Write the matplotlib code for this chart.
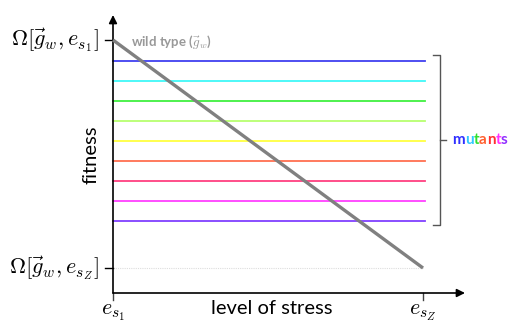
import matplotlib
matplotlib.use("Agg")
import matplotlib.pyplot as plt

plt.rcParams['mathtext.fontset'] = 'cm'

# ---- data ----
stress = [0.0, 1.0]                 # e_s1 .. e_sZ
wild_type_fitness = [1.0, 0.0]
mutant_fitness = [0.908, 0.820, 0.732, 0.645, 0.557, 0.469, 0.382, 0.294, 0.206]
mutant_colors = ['#4040f0', '#40f8f8', '#40f040', '#b8ff70', '#ffff40',
                 '#ff7050', '#ff4080', '#ff40ff', '#8040ff']
y_tick_labels = [r'$\Omega\left[\vec{g}_w, e_{s_1}\right]$',
                 r'$\Omega\left[\vec{g}_w, e_{s_Z}\right]$']
x_tick_labels = [r'$e_{s_1}$', r'$e_{s_Z}$']
word = 'mutants'
word_colors = ['#3030ff', '#30c8ff', '#30e030', '#ff6030', '#ff3030', '#ff30ff', '#9030ff']

W, H = 512, 322
fig = plt.figure(figsize=(W / 100, H / 100), dpi=100)
ax = fig.add_axes([0, 0, 1, 1])
ax.axis('off')
# data-unit mapping: x 0..1 -> px 113..423 ; y 1..0 -> px 40..268
sx, sy = 310.0, 228.0
ax.set_xlim(-113 / sx, (W - 113) / sx)
ax.set_ylim((268 - H) / sy, 268 / sy)

px = 1.0 / sx
py = 1.0 / sy

# reference gray line at wild-type bottom fitness
ax.plot(stress, [wild_type_fitness[1]] * 2, color='#dddddd', lw=0.8, ls=(0, (1, 1)))

# mutants
for lvl, c in zip(mutant_fitness, mutant_colors):
    ax.plot([stress[0], stress[1] + 2 * px], [lvl, lvl], color=c, lw=1.3)

# wild type
ax.plot(stress, wild_type_fitness, color='#808080', lw=2.4, solid_capstyle='butt', zorder=5)

# axes with arrows
y_bottom = -25 * py
ax.annotate('', xy=(0, 253 * py), xytext=(0, y_bottom),
            arrowprops=dict(arrowstyle='-|>', color='black', lw=1.2,
                            mutation_scale=12, shrinkA=0, shrinkB=0))
ax.annotate('', xy=(352 * px, y_bottom), xytext=(0, y_bottom),
            arrowprops=dict(arrowstyle='-|>', color='black', lw=1.2,
                            mutation_scale=12, shrinkA=0, shrinkB=0))

# y ticks + labels
for yv, lab in zip(wild_type_fitness, y_tick_labels):
    ax.plot([-8 * px, 0], [yv, yv], color='black', lw=1.0)
    ax.text(-14 * px, yv, lab, ha='right', va='center', fontsize=16)

# x ticks + labels
for xv, lab in zip(stress, x_tick_labels):
    ax.plot([xv, xv], [y_bottom, y_bottom - 7 * py], color='#444444', lw=1.0)
    ax.text(xv, y_bottom - 10 * py, lab, ha='center', va='top', fontsize=16)

# axis titles
ax.text(-22 * px, (268 - 155) * py, 'fitness', rotation=90, ha='center', va='center',
        fontsize=14.5, family='Lato')
ax.text((272 - 113) * px, -41 * py, 'level of stress', ha='center', va='center',
        fontsize=14.5, family='Lato')

# wild type label
ax.text(18 * px, (268 - 42) * py, r'wild type ($\vec{g}_w$)', ha='left', va='center',
        fontsize=9.5, color='#999999', fontweight='bold', family='Lato')

# bracket
bx0, bx1 = 320 * px, 327 * px
btop, bbot, bmid = (268 - 55) * py, (268 - 225) * py, (268 - 140) * py
ax.plot([bx0, bx1, bx1, bx0], [btop, btop, bbot, bbot], color='#555555', lw=1.0)
ax.plot([bx1, bx1 + 6 * px], [bmid, bmid], color='#555555', lw=1.0)

# colored word
fig.canvas.draw()
renderer = fig.canvas.get_renderer()
x_disp = 452.0
y_data = bmid
for ch, c in zip(word, word_colors):
    xd = ax.transData.inverted().transform((x_disp, 0))[0]
    t = ax.text(xd, y_data, ch, ha='left', va='center', fontsize=11,
                fontweight='bold', color=c, family='Lato')
    bb = t.get_window_extent(renderer)
    x_disp = bb.x1

fig.savefig('out.png', dpi=100)
